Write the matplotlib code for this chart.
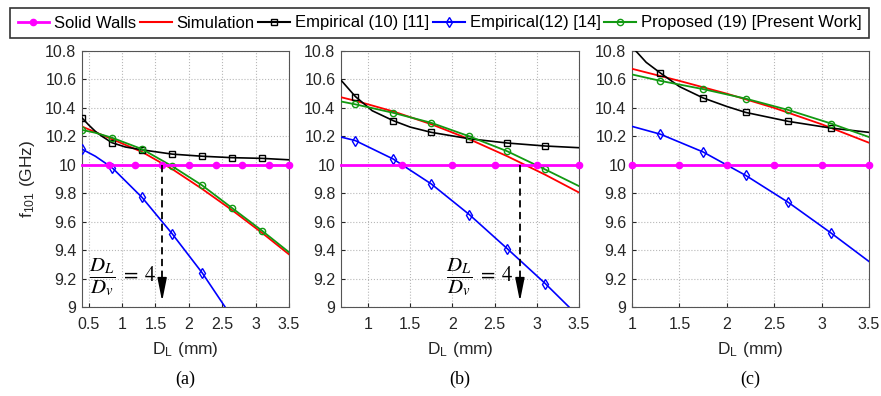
import matplotlib.pyplot as plt
from matplotlib.lines import Line2D

plt.rcParams['font.family'] = ['Liberation Sans', 'DejaVu Sans']
plt.rcParams['mathtext.fontset'] = 'stix'

# ---- data ----
# panel (a)
a_wall_x = [0.4, 0.8, 1.2, 1.6, 2.0, 2.4, 2.8, 3.2, 3.5]
a_wall_y = [10.0, 10.0, 10.0, 10.0, 10.0, 10.0, 10.0, 10.0, 10.0]
a_sim_x = [0.42, 0.85, 1.3, 1.75, 2.2, 2.65, 3.1, 3.5]
a_sim_y = [10.265, 10.18, 10.09, 9.97, 9.83, 9.68, 9.52, 9.37]
a_emp10_x = [0.4, 0.5, 0.6, 0.7, 0.85, 1.05, 1.3, 1.75, 2.2, 2.65, 3.1, 3.5]
a_emp10_y = [10.33, 10.28, 10.235, 10.2, 10.155, 10.125, 10.105, 10.075, 10.06, 10.05, 10.045, 10.035]
a_emp12_x = [0.4, 0.6, 0.85, 1.3, 1.75, 2.2, 2.6]
a_emp12_y = [10.11, 10.06, 9.98, 9.77, 9.515, 9.24, 8.96]
a_prop_x = [0.4, 0.6, 0.85, 1.3, 1.75, 2.2, 2.65, 3.1, 3.5]
a_prop_y = [10.245, 10.225, 10.19, 10.11, 9.99, 9.855, 9.695, 9.535, 9.385]

# panel (b)
b_wall_x = [0.68, 1.4, 2.0, 2.5, 3.0, 3.5]
b_wall_y = [10.0, 10.0, 10.0, 10.0, 10.0, 10.0]
b_sim_x = [0.68, 0.85, 1.3, 1.75, 2.2, 2.65, 3.1, 3.5]
b_sim_y = [10.475, 10.45, 10.375, 10.285, 10.18, 10.06, 9.93, 9.805]
b_emp10_x = [0.68, 0.85, 1.05, 1.3, 1.5, 1.75, 2.2, 2.65, 3.1, 3.5]
b_emp10_y = [10.595, 10.48, 10.38, 10.31, 10.265, 10.228, 10.183, 10.153, 10.132, 10.12]
b_emp12_x = [0.68, 0.85, 1.3, 1.75, 2.2, 2.65, 3.1, 3.45]
b_emp12_y = [10.195, 10.17, 10.04, 9.865, 9.65, 9.41, 9.165, 8.96]
b_prop_x = [0.68, 0.85, 1.3, 1.75, 2.2, 2.65, 3.1, 3.5]
b_prop_y = [10.445, 10.425, 10.365, 10.295, 10.2, 10.095, 9.967, 9.85]

# panel (c)
c_wall_x = [1.0, 1.5, 2.0, 2.5, 3.0, 3.5]
c_wall_y = [10.0, 10.0, 10.0, 10.0, 10.0, 10.0]
c_sim_x = [1.0, 1.5, 2.0, 2.5, 3.0, 3.5]
c_sim_y = [10.675, 10.59, 10.5, 10.4, 10.285, 10.155]
c_emp10_x = [1.0, 1.15, 1.3, 1.5, 1.75, 2.0, 2.2, 2.65, 3.1, 3.5]
c_emp10_y = [10.83, 10.72, 10.645, 10.55, 10.47, 10.41, 10.368, 10.305, 10.258, 10.228]
c_emp12_x = [1.0, 1.3, 1.75, 2.2, 2.65, 3.1, 3.5]
c_emp12_y = [10.27, 10.215, 10.09, 9.925, 9.735, 9.52, 9.32]
c_prop_x = [1.0, 1.3, 1.75, 2.2, 2.65, 3.1, 3.5]
c_prop_y = [10.635, 10.59, 10.532, 10.465, 10.385, 10.29, 10.195]

mark_x = [0.4, 0.85, 1.3, 1.75, 2.2, 2.65, 3.1]   # sample points with markers
xlims = [(0.4, 3.5), (0.68, 3.5), (1.0, 3.5)]
xticks = [[0.5, 1, 1.5, 2, 2.5, 3, 3.5], [1, 1.5, 2, 2.5, 3, 3.5], [1, 1.5, 2, 2.5, 3, 3.5]]
xticklabels = [['0.5', '1', '1.5', '2', '2.5', '3', '3.5'],
               ['1', '1.5', '2', '2.5', '3', '3.5'],
               ['1', '1.5', '2', '2.5', '3', '3.5']]
yticks = [9, 9.2, 9.4, 9.6, 9.8, 10, 10.2, 10.4, 10.6, 10.8]
yticklabels = ['9', '9.2', '9.4', '9.6', '9.8', '10', '10.2', '10.4', '10.6', '10.8']
arrow_x = [1.6, 2.8, None]
captions = ['(a)', '(b)', '(c)']

c_wall = '#ff00ff'
c_sim = '#ff0000'
c_emp10 = '#000000'
c_emp12 = '#0000ff'
c_prop = '#129912'

fig = plt.figure(figsize=(8.81, 3.96), dpi=100)
positions = [[82/881, 1-307/396, 207/881, 256/396],
             [341/881, 1-307/396, 238/881, 256/396],
             [632/881, 1-307/396, 237/881, 256/396]]

panels = [
    (a_wall_x, a_wall_y, a_sim_x, a_sim_y, a_emp10_x, a_emp10_y, a_emp12_x, a_emp12_y, a_prop_x, a_prop_y),
    (b_wall_x, b_wall_y, b_sim_x, b_sim_y, b_emp10_x, b_emp10_y, b_emp12_x, b_emp12_y, b_prop_x, b_prop_y),
    (c_wall_x, c_wall_y, c_sim_x, c_sim_y, c_emp10_x, c_emp10_y, c_emp12_x, c_emp12_y, c_prop_x, c_prop_y),
]


def marked(xs):
    # indices of the points that carry a marker
    return [i for i, v in enumerate(xs) if any(abs(v - m) < 1e-6 for m in mark_x)]


for k, p in enumerate(panels):
    wx, wy, sx, sy, ex, ey, bx, by, px, py = p
    ax = fig.add_axes(positions[k])
    ax.plot(sx, sy, color=c_sim, lw=1.3, zorder=3)
    ax.plot(ex, ey, color=c_emp10, lw=1.2, marker='s', ms=4, mfc='none', mew=1.0,
            markevery=marked(ex), zorder=4)
    ax.plot(bx, by, color=c_emp12, lw=1.2, marker='d', ms=5, mfc='none', mew=1.0,
            markevery=marked(bx), zorder=4)
    ax.plot(px, py, color=c_prop, lw=1.3, marker='o', ms=4.5, mfc='none', mew=1.0,
            markevery=marked(px), zorder=4)
    wmark = list(range(1, len(wx))) if k < 2 else list(range(len(wx)))
    ax.plot(wx, wy, color=c_wall, lw=2.0, marker='o', ms=4.5, markevery=wmark, zorder=5,
            clip_on=False)

    if arrow_x[k] is not None:
        xa = arrow_x[k]
        ax.plot([xa, xa], [10.0, 9.12], color='k', lw=1.3, ls=(0, (4, 2.5)), zorder=6)
        ax.annotate('', xy=(xa, 9.02), xytext=(xa, 9.16),
                    arrowprops=dict(arrowstyle='-|>,head_length=1.4,head_width=0.28',
                                    color='k', lw=1.2, mutation_scale=10), zorder=6)
        ax.text(xa - 0.08, 9.21, r'$\dfrac{D_L}{D_v}\;=\;4$', fontsize=15,
                ha='right', va='center', zorder=7)

    ax.set_xlim(*xlims[k])
    ax.set_ylim(9, 10.8)
    ax.set_xticks(xticks[k])
    ax.set_xticklabels(xticklabels[k])
    ax.set_yticks(yticks)
    ax.set_yticklabels(yticklabels)
    ax.grid(True, ls=':', color='#b8b8b8', lw=0.8)
    ax.tick_params(direction='in', length=3, labelsize=11.5, colors='#262626')
    ax.tick_params(axis='x', pad=7)
    ax.tick_params(axis='y', pad=4)
    for sp in ax.spines.values():
        sp.set_color('#555555')
        sp.set_linewidth(0.8)
    ax.set_xlabel(r'D$_\mathregular{L}$ (mm)', fontsize=12.5, color='#262626', labelpad=6)
    if k == 0:
        ax.set_ylabel(r'f$_\mathregular{101}$ (GHz)', fontsize=12.5, color='#262626',
                      labelpad=6)
    ax.text(0.5, -0.282, captions[k], transform=ax.transAxes, ha='center', va='center',
            fontsize=13, family='Liberation Serif')

handles = [
    Line2D([], [], color=c_wall, lw=2.0, marker='o', ms=4.5),
    Line2D([], [], color=c_sim, lw=1.5),
    Line2D([], [], color=c_emp10, lw=1.5, marker='s', ms=4, mfc='none'),
    Line2D([], [], color=c_emp12, lw=1.5, marker='d', ms=5, mfc='none'),
    Line2D([], [], color=c_prop, lw=1.5, marker='o', ms=4.5, mfc='none'),
]
labels = ['Solid Walls', 'Simulation', 'Empirical (10) [11]', 'Empirical(12) [14]',
          'Proposed (19) [Present Work]']
leg = fig.legend(handles, labels, loc='lower left', ncol=5, mode='expand',
                 bbox_to_anchor=(10/881, 1-38/396, 859/881, 29/396),
                 fontsize=12, frameon=True, fancybox=False, edgecolor='k',
                 handlelength=1.9, handletextpad=0.3, columnspacing=0.8,
                 borderpad=0.45, borderaxespad=0)
leg.get_frame().set_linewidth(1.2)

fig.savefig('out.png', dpi=100)
